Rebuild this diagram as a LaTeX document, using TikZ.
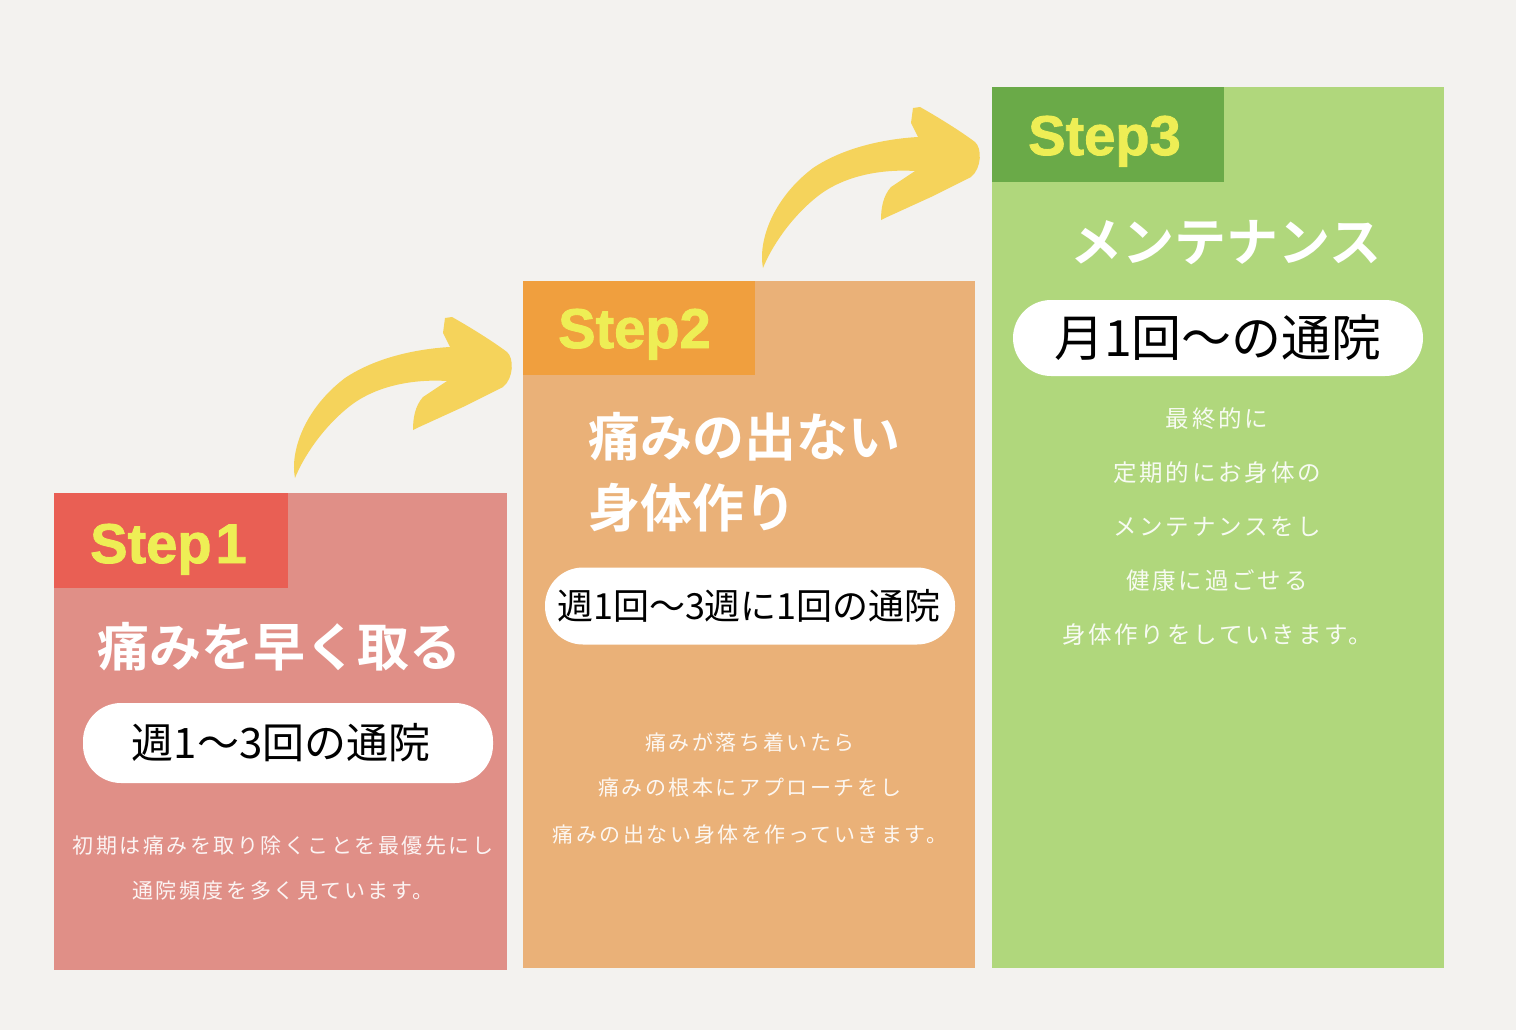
\documentclass[tikz,border=0pt]{standalone}
\usepackage{fontspec}
\newfontfamily\jp{Noto Sans CJK JP}
\newfontfamily\jpb{Noto Sans CJK JP Bold}
\newfontfamily\jpsp{Noto Sans CJK JP}[LetterSpace=12]
\newfontfamily\stepfont{Liberation Sans Bold}[FakeBold=1.6]
\definecolor{bg}{HTML}{F3F2EF}
\definecolor{bodyA}{HTML}{E08F87}
\definecolor{headA}{HTML}{E95F54}
\definecolor{bodyB}{HTML}{EAB178}
\definecolor{headB}{HTML}{F09F3E}
\definecolor{bodyC}{HTML}{B0D77C}
\definecolor{headC}{HTML}{6AAA48}
\definecolor{steptxt}{HTML}{EEEE55}
\definecolor{arrowcol}{HTML}{F5D35B}
\tikzset{
  steplabel/.style={anchor=base west,inner sep=0pt,text=steptxt,font=\stepfont\fontsize{56}{56}\selectfont},
  titletxt/.style={inner sep=0pt,text=white,font=\jpb\fontsize{52}{52}\selectfont},
  pill/.style={fill=white,rounded corners=38pt,inner sep=0pt,minimum width=410pt},
  pilltxt/.style={inner sep=0pt,text=black},
  desctxt/.style={inner sep=0pt,text=white,text opacity=0.9},
  yarrow/.pic={
    \fill[arrowcol] (0,0) .. controls (-5,-25) and (8,-68) .. (50,-100)
      .. controls (80,-120) and (120,-129) .. (155,-131)
      -- (148,-145) -- (150,-160) -- (157,-161)
      .. controls (180,-148) and (200,-135) .. (212,-126)
      .. controls (219,-120) and (219,-100) .. (208,-91)
      -- (168,-71) -- (122,-50) -- (118,-48)
      .. controls (118,-60) and (120,-72) .. (128,-81)
      -- (152,-97)
      .. controls (120,-99) and (82,-93) .. (55,-72)
      .. controls (27,-50) and (8,-20) .. (0,0) -- cycle;
  }
}
\begin{document}
\begin{tikzpicture}[x=1pt,y=-1pt]
\fill[bg] (0,0) rectangle (1516,1030);
\useasboundingbox (0,0) rectangle (1516,1030);
% boxes
\fill[bodyA] (54,493) rectangle (507,970);
\fill[headA] (54,493) rectangle (288,588);
\fill[bodyB] (523,281) rectangle (975,968);
\fill[headB] (523,281) rectangle (755,375);
\fill[bodyC] (992,87) rectangle (1444,968);
\fill[headC] (992,87) rectangle (1224,182);
% arrows
\pic at (295,478) {yarrow};
\pic at (763,268) {yarrow};
% step labels
\node[steplabel] (s1) at (90,563) {Step\kern4pt1};
\node[steplabel] (s2) at (558,348) {Step2};
\node[steplabel] (s3) at (1028,155) {Step3};
% titles
\node[titletxt] (t1) at (279,647) {痛みを早く取る};
\node[titletxt,anchor=west] (t2a) at (588,437) {痛みの出ない};
\node[titletxt,anchor=west] (t2b) at (588,508) {身体作り};
\node[titletxt] (t3) at (1226,243) {メンテナンス};
% pills
\node[pill,minimum height=80pt] (p1) at (288,743) {};
\node[pilltxt,font=\jp\fontsize{42}{42}\selectfont] (p1t) at (281,743) {週1～3回の通院};
\node[pill,minimum height=77pt] (p2) at (750,606) {};
\node[pilltxt,font=\jp\fontsize{36}{36}\selectfont] (p2t) at (749,606) {週1回～3週に1回の通院};
\node[pill,minimum height=76pt] (p3) at (1218,338) {};
\node[pilltxt,font=\jp\fontsize{50}{50}\selectfont] (p3t) at (1218,338) {月1回～の通院};
% descriptions
\begin{scope}[every node/.style={desctxt,font=\jpsp\fontsize{21}{21}\selectfont}]
\node (d1a) at (283,846) {初期は痛みを取り除くことを最優先にし};
\node (d1b) at (283,891) {通院頻度を多く見ています。};
\node (d2a) at (750,742) {痛みが落ち着いたら};
\node (d2b) at (750,788) {痛みの根本にアプローチをし};
\node (d2c) at (750,834) {痛みの出ない身体を作っていきます。};
\end{scope}
\begin{scope}[every node/.style={desctxt,font=\jpsp\fontsize{23.5}{23.5}\selectfont}]
\node (d3a) at (1217,419) {最終的に};
\node (d3b) at (1217,473) {定期的にお身体の};
\node (d3c) at (1217,527) {メンテナンスをし};
\node (d3d) at (1217,581) {健康に過ごせる};
\node (d3e) at (1217,635) {身体作りをしていきます。};
\end{scope}
\end{tikzpicture}
\end{document}
